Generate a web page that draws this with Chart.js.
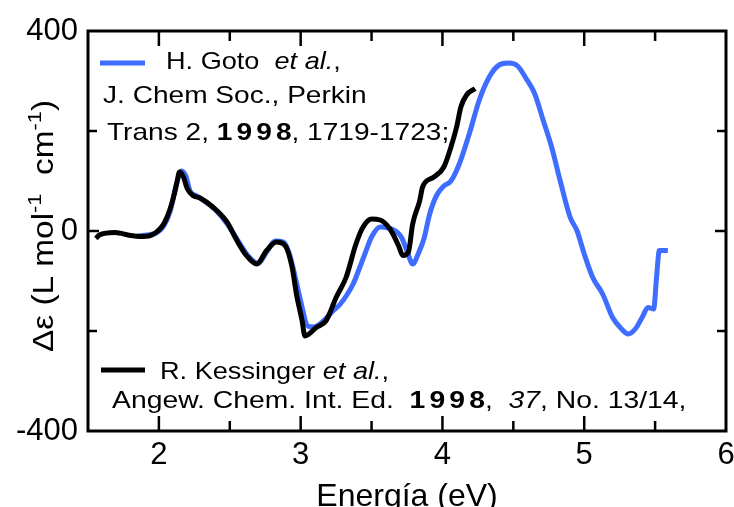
<!DOCTYPE html>
<html>
<head>
<meta charset="utf-8">
<script src="https://cdn.jsdelivr.net/npm/chart.js@4/dist/chart.umd.min.js"></script>
<style>
  html, body { margin: 0; padding: 0; background: #fff; }
  #wrap { width: 734px; height: 507px; }
</style>
</head>
<body>
<div id="wrap"><canvas id="cdChart" width="734" height="507"></canvas></div>
<script>
// Goto et al. (blue)
var gotoE = [1.85, 1.92, 1.98, 2.03, 2.08, 2.12, 2.16, 2.19, 2.22, 2.27, 2.33, 2.40, 2.48, 2.56, 2.63,
  2.70, 2.76, 2.82, 2.88, 2.92, 2.96, 3.00, 3.05, 3.09, 3.16, 3.22, 3.28, 3.33, 3.37, 3.41,
  3.45, 3.50, 3.56, 3.62, 3.67, 3.71, 3.75, 3.79, 3.83, 3.87, 3.91, 3.96, 4.01, 4.06, 4.12,
  4.19, 4.26, 4.33, 4.40, 4.47, 4.53, 4.59, 4.65, 4.71, 4.77, 4.83, 4.90, 4.95, 5.00, 5.06,
  5.13, 5.20, 5.26, 5.31, 5.36, 5.41, 5.45, 5.49, 5.51, 5.53, 5.59];
var gotoDE = [-10, -8, -4, 8, 40, 90, 120, 110, 80, 70, 58, 42, 15, -20, -50,
  -65, -42, -20, -22, -45, -90, -140, -190, -192, -180, -162, -146, -126, -106, -78,
  -48, -12, 8, 6, 0, -12, -40, -66, -45, -15, 34, 72, 90, 100, 135,
  195, 262, 308, 332, 336, 330, 305, 275, 222, 168, 101, 28, 0, -46, -93,
  -126, -173, -195, -206, -196, -172, -153, -156, -93, -39, -39];

// Kessinger et al. (black)
var kessE = [1.556, 1.58, 1.69, 1.80, 1.87, 1.94, 2.01, 2.04, 2.08, 2.11, 2.13, 2.145, 2.17, 2.20,
  2.24, 2.29, 2.38, 2.48, 2.55, 2.62, 2.69, 2.76, 2.83, 2.89, 2.94, 2.97, 3.01, 3.03, 3.11,
  3.18, 3.25, 3.32, 3.39, 3.44, 3.50, 3.56, 3.63, 3.69, 3.72, 3.76, 3.79, 3.84, 3.86, 3.94,
  4.01, 4.06, 4.10, 4.13, 4.17, 4.23];
var kessDE = [-15, -8, -3, -9, -11, -9, 5, 17, 45, 75, 101, 118, 110, 85,
  71, 66, 48, 18, -19, -50, -66, -39, -22, -29, -73, -126, -179, -210, -193,
  -179, -133, -93, -26, 8, 24, 22, 4, -29, -49, -42, 14, 61, 88, 108,
  128, 168, 208, 248, 272, 285];

var xTicks = [2, 3, 4, 5, 6];
var yTicks = [-400, 0, 400];

var FONT = "'Liberation Sans', Arial, sans-serif";
var BLUE = '#3f6dff';

function pts(xs, ys) {
  return xs.map(function (x, i) { return { x: x, y: ys[i] }; });
}

function runsWidth(ctx, runs) {
  var w = 0;
  runs.forEach(function (r) {
    ctx.font = r.font;
    if (r.sp) {
      for (var k = 0; k < r.text.length; k++) {
        w += ctx.measureText(r.text[k]).width + (k < r.text.length - 1 ? r.sp : 0);
      }
    } else {
      w += ctx.measureText(r.text).width;
    }
  });
  return w;
}

// draw a row of text pieces, widened horizontally by sx
function drawRuns(ctx, x, y, runs, sx) {
  ctx.save();
  ctx.translate(x, y);
  ctx.scale(sx, 1);
  ctx.fillStyle = '#000';
  ctx.textBaseline = 'alphabetic';
  ctx.textAlign = 'left';
  var cx = 0;
  runs.forEach(function (r) {
    ctx.font = r.font;
    if (r.sp) {
      for (var k = 0; k < r.text.length; k++) {
        ctx.fillText(r.text[k], cx, r.dy || 0);
        cx += ctx.measureText(r.text[k]).width + (k < r.text.length - 1 ? r.sp : 0);
      }
    } else {
      ctx.fillText(r.text, cx, r.dy || 0);
      cx += ctx.measureText(r.text).width;
    }
  });
  ctx.restore();
}

var frameAndNotes = {
  id: 'frameAndNotes',
  afterDatasetsDraw: function (chart) {
    var ctx = chart.ctx;
    var a = chart.chartArea;
    var xs = chart.scales.x, ys = chart.scales.y;
    ctx.save();
    ctx.strokeStyle = '#000';
    ctx.lineWidth = 3;
    ctx.lineCap = 'square';
    ctx.strokeRect(a.left, a.top, a.right - a.left, a.bottom - a.top);

    // inward ticks on all four sides
    ctx.lineWidth = 2.5;
    ctx.lineCap = 'butt';
    ctx.beginPath();
    for (var v = 2; v <= 5.5; v += 0.5) {
      var px = xs.getPixelForValue(v);
      var len = (v % 1 === 0) ? 15 : 10;
      ctx.moveTo(px, a.bottom); ctx.lineTo(px, a.bottom - len);
      ctx.moveTo(px, a.top); ctx.lineTo(px, a.top + len);
    }
    [-200, 0, 200].forEach(function (val) {
      var py = ys.getPixelForValue(val);
      var len = val === 0 ? 11 : 9;
      ctx.moveTo(a.left, py); ctx.lineTo(a.left + len, py);
      ctx.moveTo(a.right, py); ctx.lineTo(a.right - len, py);
    });
    ctx.stroke();
    ctx.restore();
  },
  afterDraw: function (chart) {
    var ctx = chart.ctx;
    var reg = '24px ' + FONT;
    var ita = 'italic 24px ' + FONT;
    var bld = 'bold 24px ' + FONT;
    var sx = 1.17;

    // legend swatches
    ctx.save();
    ctx.lineWidth = 5;
    ctx.strokeStyle = BLUE;
    ctx.beginPath(); ctx.moveTo(100, 63); ctx.lineTo(145, 63); ctx.stroke();
    ctx.strokeStyle = '#000';
    ctx.beginPath(); ctx.moveTo(101, 370); ctx.lineTo(145, 370); ctx.stroke();
    ctx.restore();

    drawRuns(ctx, 166, 69, [
      { text: 'H. Goto  ', font: reg },
      { text: 'et al.', font: ita },
      { text: ',', font: reg }
    ], 1.13);
    drawRuns(ctx, 103, 103, [{ text: 'J. Chem Soc., Perkin', font: reg }], sx);
    drawRuns(ctx, 107, 140, [
      { text: 'Trans 2, ', font: reg },
      { text: '1998', font: bld, sp: 3.5 },
      { text: ', 1719-1723;', font: reg }
    ], sx);

    drawRuns(ctx, 160, 379, [
      { text: 'R. Kessinger ', font: reg },
      { text: 'et al.', font: ita },
      { text: ',', font: reg }
    ], 1.13);
    drawRuns(ctx, 112, 408, [
      { text: 'Angew. Chem. Int. Ed.  ', font: reg },
      { text: '1998', font: bld, sp: 3.5 },
      { text: ',  ', font: reg },
      { text: '37', font: ita },
      { text: ', No. 13/14,', font: reg }
    ], 1.18);

    // x axis title
    ctx.save();
    ctx.fillStyle = '#000';
    ctx.font = '32px ' + FONT;
    ctx.textAlign = 'center';
    ctx.textBaseline = 'alphabetic';
    ctx.fillText('Energía (eV)', (chart.chartArea.left + chart.chartArea.right) / 2, 506);
    ctx.restore();

    // y axis title with superscripts, rotated
    var yf = '29px ' + FONT, sup = '19px ' + FONT;
    var yRuns = [
      { text: '\u0394\u03b5 (L mol', font: yf },
      { text: '-1', font: sup, dy: -12 },
      { text: '  cm', font: yf },
      { text: '-1', font: sup, dy: -12 },
      { text: ')', font: yf }
    ];
    var ysx = 1.15;
    var w = runsWidth(ctx, yRuns) * ysx;
    ctx.save();
    ctx.translate(53, 226);
    ctx.rotate(-Math.PI / 2);
    drawRuns(ctx, -w / 2, 0, yRuns, ysx);
    ctx.restore();
  }
};

var ctx = document.getElementById('cdChart').getContext('2d');
new Chart(ctx, {
  type: 'line',
  data: {
    datasets: [
      {
        label: 'R. Kessinger et al.',
        data: pts(kessE, kessDE),
        borderColor: '#000',
        borderWidth: 5,
        pointRadius: 0,
        cubicInterpolationMode: 'monotone',
        order: 0
      },
      {
        label: 'H. Goto et al.',
        data: pts(gotoE, gotoDE),
        borderColor: BLUE,
        borderWidth: 5,
        pointRadius: 0,
        cubicInterpolationMode: 'monotone',
        order: 1
      }
    ]
  },
  options: {
    responsive: false,
    animation: false,
    layout: { padding: { top: 31, right: 8, left: 0, bottom: 0 } },
    plugins: { legend: { display: false }, tooltip: { enabled: false } },
    scales: {
      x: {
        type: 'linear',
        min: 1.5,
        max: 6,
        grid: { display: false, drawTicks: false },
        border: { display: false },
        afterFit: function (s) {
          s.height = 76;
          s.paddingLeft = 0;
          s.paddingRight = 0;
        },
        afterBuildTicks: function (s) {
          s.ticks = xTicks.map(function (v) { return { value: v }; });
        },
        ticks: {
          autoSkip: false,
          maxRotation: 0,
          padding: 6,
          color: '#000',
          font: { family: FONT, size: 31 },
          callback: function (v) { return String(v); }
        }
      },
      y: {
        min: -400,
        max: 400,
        grid: { display: false, drawTicks: false },
        border: { display: false },
        afterFit: function (s) {
          s.width = 88;
          s.paddingTop = 0;
          s.paddingBottom = 0;
        },
        afterBuildTicks: function (s) {
          s.ticks = yTicks.map(function (v) { return { value: v }; });
        },
        ticks: {
          padding: 10,
          color: '#000',
          font: { family: FONT, size: 31 },
          callback: function (v) { return String(v); }
        }
      }
    }
  },
  plugins: [frameAndNotes]
});
</script>
</body>
</html>
